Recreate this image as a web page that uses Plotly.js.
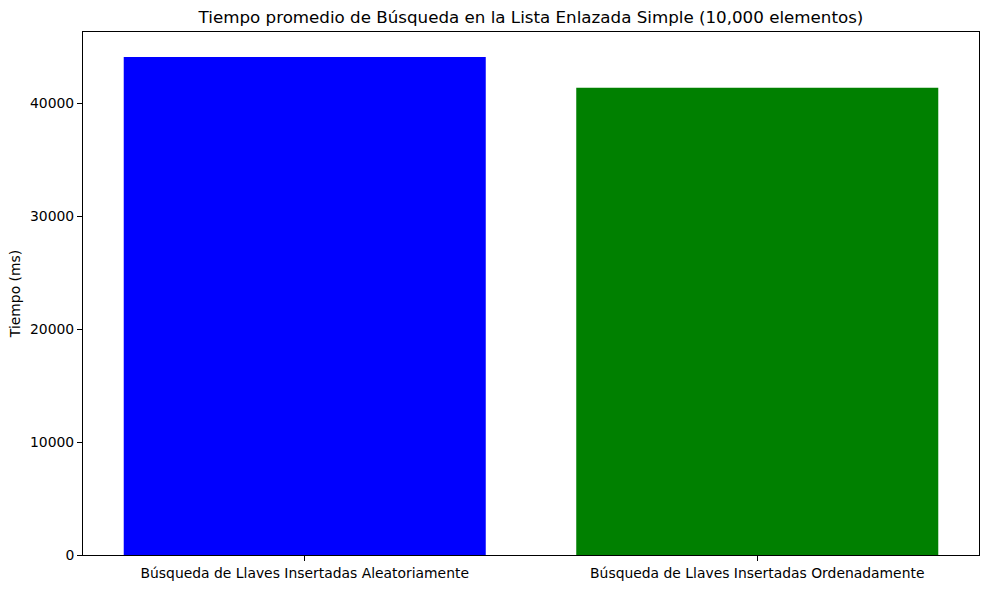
<!DOCTYPE html>
<html>
<head>
<meta charset="utf-8">
<script src="https://cdn.plot.ly/plotly-3.0.1.min.js"></script>
<style>html,body{margin:0;padding:0;background:#fff;}#chart{width:989px;height:589px;}</style>
</head>
<body>
<div id="chart"></div>
<script>
const categories = ["Búsqueda de Llaves Insertadas Aleatoriamente", "Búsqueda de Llaves Insertadas Ordenadamente"];
const tiempos = [44120, 41380];
const colores = ["#0000ff", "#008000"];
const yTicks = [0, 10000, 20000, 30000, 40000];
const titulo = "Tiempo promedio de Búsqueda en la Lista Enlazada Simple (10,000 elementos)";
const yTitulo = "Tiempo (ms)";

const font = "DejaVu Sans, sans-serif";
const ymax = Math.max(...tiempos) * 1.05;

Plotly.newPlot("chart", [{
  type: "bar",
  x: [0, 1],
  y: tiempos,
  width: 0.8,
  marker: {color: colores, line: {width: 0}},
  hoverinfo: "none"
}], {
  width: 989, height: 589,
  margin: {l: 83, r: 10, t: 32, b: 34, pad: 0},
  paper_bgcolor: "#fff", plot_bgcolor: "#fff",
  showlegend: false,
  font: {family: font, color: "#000", size: 13.9},
  title: {text: titulo, font: {family: font, size: 16.7, color: "#000"}, x: 0.5, xanchor: "center", y: 1 - 17/589, yanchor: "middle", yref: "container", xref: "paper"},
  xaxis: {
    range: [-0.49, 1.49], tickvals: [0, 1], ticktext: categories,
    ticks: "outside", ticklen: 5, tickwidth: 1, tickcolor: "#000",
    showline: true, linecolor: "#000", linewidth: 1, mirror: true,
    showgrid: false, zeroline: false, automargin: false,
    tickfont: {family: font, size: 13.9, color: "#000"}
  },
  yaxis: {
    range: [0, ymax], tickvals: yTicks, ticktext: yTicks.map(String),
    ticks: "outside", ticklen: 5, tickwidth: 1, tickcolor: "#000",
    showline: true, linecolor: "#000", linewidth: 1, mirror: true,
    showgrid: false, zeroline: false, automargin: false,
    tickfont: {family: font, size: 13.9, color: "#000"},
    title: {text: yTitulo, font: {family: font, size: 13.9, color: "#000"}, standoff: 6}
  }
}, {staticPlot: true});
</script>
</body>
</html>
